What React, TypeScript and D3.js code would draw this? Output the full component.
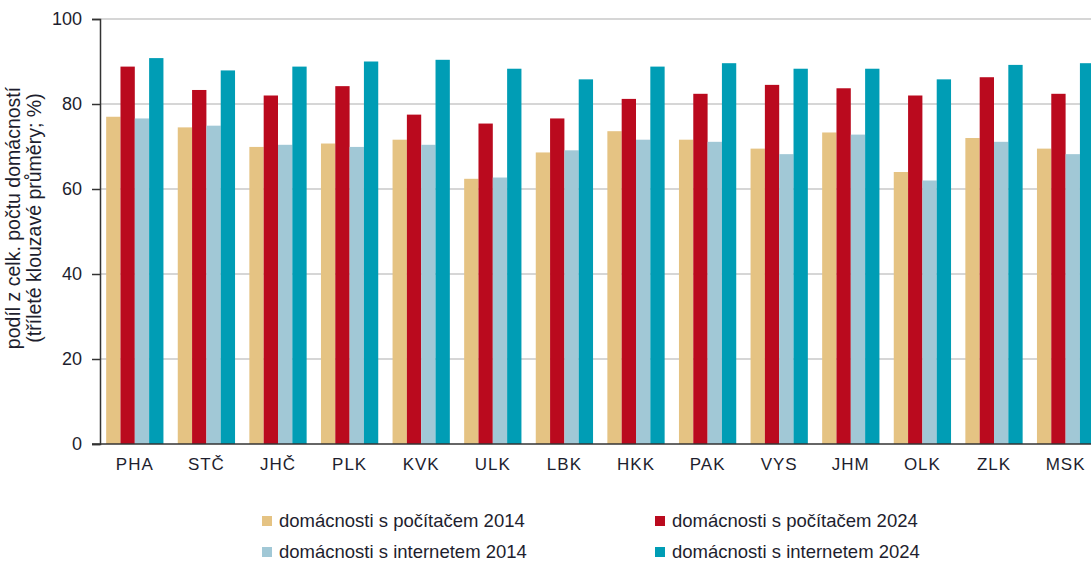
import React, { useRef, useEffect } from 'react';
import * as d3 from 'd3';

const regions = ['PHA', 'STČ', 'JHČ', 'PLK', 'KVK', 'ULK', 'LBK', 'HKK', 'PAK', 'VYS', 'JHM', 'OLK', 'ZLK', 'MSK'];

const pc2014 = [77.0, 74.5, 69.9, 70.7, 71.6, 62.4, 68.6, 73.6, 71.6, 69.5, 73.3, 64.0, 72.0, 69.5];
const pc2024 = [88.8, 83.3, 82.0, 84.2, 77.5, 75.4, 76.6, 81.2, 82.4, 84.5, 83.7, 82.0, 86.3, 82.4];
const net2014 = [76.6, 74.9, 70.4, 69.9, 70.4, 62.7, 69.1, 71.6, 71.1, 68.2, 72.8, 62.0, 71.1, 68.2];
const net2024 = [90.8, 87.9, 88.8, 90.0, 90.4, 88.3, 85.8, 88.8, 89.6, 88.3, 88.3, 85.8, 89.2, 89.6];

const seriesNames = [
  'domácnosti s počítačem 2014',
  'domácnosti s počítačem 2024',
  'domácnosti s internetem 2014',
  'domácnosti s internetem 2024'
];
const seriesColors = ['#e5c383', '#ba0a1e', '#a1c8d6', '#009db5'];
const yTicks = [0, 20, 40, 60, 80, 100];

const width = 1091;
const height = 564;
const font = 'Liberation Sans, Arial, sans-serif';

const App = () => {
  const svgRef = useRef<SVGSVGElement>(null);

  useEffect(() => {
    const svg = d3.select(svgRef.current);
    svg.selectAll('*').remove();

    const series = [pc2014, pc2024, net2014, net2024];
    const rows = regions.map((r, i) => ({ region: r, values: series.map(s => s[i]) }));

    const plotLeft = 100;
    const plotBottom = 444;
    const plotTop = 19;

    const x = d3.scaleBand<string>()
      .domain(regions)
      .range([plotLeft - 1, plotLeft - 1 + 14 * 71.6])
      .paddingInner(0.2)
      .paddingOuter(0.1);

    const xInner = d3.scaleBand<number>()
      .domain(d3.range(series.length))
      .range([0, x.bandwidth()]);

    const y = d3.scaleLinear().domain([0, 100]).range([plotBottom, plotTop]);

    // gridlines
    svg.append('g')
      .selectAll('line')
      .data(yTicks.filter(t => t > 0))
      .join('line')
      .attr('x1', plotLeft)
      .attr('x2', width)
      .attr('y1', d => y(d))
      .attr('y2', d => y(d))
      .attr('stroke', '#c9c9c9')
      .attr('stroke-width', 1.5);

    // bars
    svg.append('g')
      .selectAll('g')
      .data(rows)
      .join('g')
      .attr('transform', d => `translate(${x(d.region)},0)`)
      .selectAll('rect')
      .data(d => d.values.map((v, k) => ({ v, k })))
      .join('rect')
      .attr('x', d => xInner(d.k)!)
      .attr('y', d => y(d.v))
      .attr('width', xInner.bandwidth())
      .attr('height', d => y(0) - y(d.v))
      .attr('fill', d => seriesColors[d.k]);

    // y axis
    const yAxis = svg.append('g')
      .attr('transform', `translate(${plotLeft},0)`)
      .call(d3.axisLeft(y).tickValues(yTicks).tickSize(8).tickPadding(10));
    yAxis.select('.domain').attr('stroke', '#333').attr('stroke-width', 1.5);
    yAxis.selectAll('.tick line').attr('stroke', '#333').attr('stroke-width', 1.5);
    yAxis.selectAll('.tick text')
      .attr('fill', '#1e1e2e')
      .style('font-family', font)
      .style('font-size', '18px');

    // x axis
    const xAxis = svg.append('g')
      .attr('transform', `translate(0,${plotBottom})`)
      .call(d3.axisBottom(x).tickSize(0).tickPadding(14));
    xAxis.select('.domain').remove();
    xAxis.append('line')
      .attr('x1', plotLeft - 8)
      .attr('x2', width)
      .attr('stroke', '#333')
      .attr('stroke-width', 1.5);
    xAxis.selectAll('.tick text')
      .attr('fill', '#1e1e2e')
      .style('font-family', font)
      .style('font-size', '17px')
      .style('letter-spacing', '1px');

    // y title
    const title = svg.append('text')
      .attr('transform', 'translate(22,218) rotate(-90)')
      .attr('text-anchor', 'middle')
      .attr('fill', '#1e1e2e')
      .style('font-family', font)
      .style('font-size', '19.5px');
    title.append('tspan').attr('x', 0).attr('dy', '-0.1em').text('podíl z celk. počtu domácností');
    title.append('tspan').attr('x', 0).attr('dy', '1.05em').text('(tříleté klouzavé průměry; %)');

    // legend
    const legendPos = [
      { x: 262, y: 521 },
      { x: 655, y: 521 },
      { x: 262, y: 552 },
      { x: 655, y: 552 }
    ];
    const legend = svg.append('g')
      .selectAll('g')
      .data(seriesNames)
      .join('g')
      .attr('transform', (d, i) => `translate(${legendPos[i].x},${legendPos[i].y})`);
    legend.append('rect')
      .attr('x', 0)
      .attr('y', -5)
      .attr('width', 10)
      .attr('height', 10)
      .attr('fill', (d, i) => seriesColors[i]);
    legend.append('text')
      .attr('x', 17)
      .attr('dy', '0.35em')
      .attr('fill', '#1e1e2e')
      .style('font-family', font)
      .style('font-size', '18.5px')
      .text(d => d);
  }, []);

  return (
    <div style={{ position: 'absolute', left: 0, top: 0 }}>
      <svg ref={svgRef} width={width} height={height} style={{ display: 'block', background: '#fff' }} />
    </div>
  );
};

export default App;
